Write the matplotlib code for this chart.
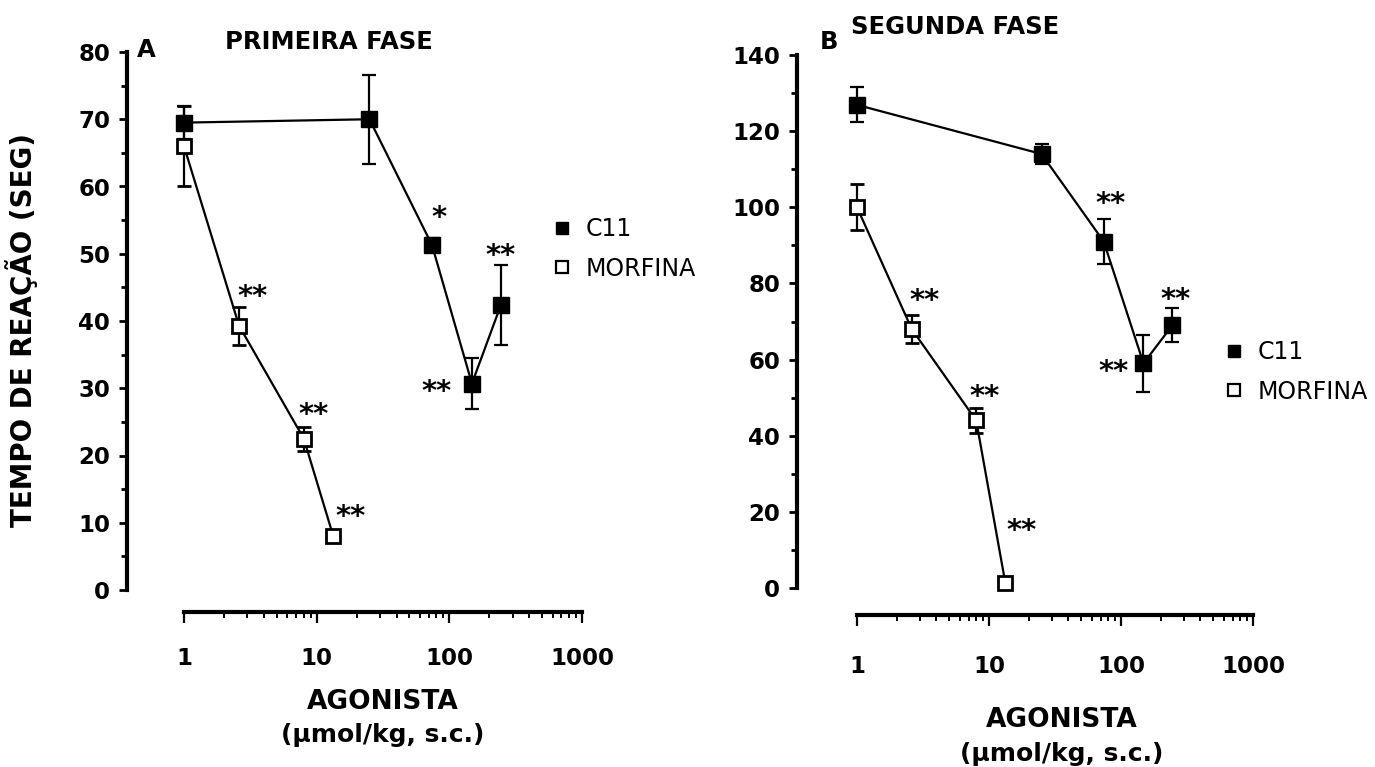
import matplotlib
matplotlib.use("Agg")
import matplotlib.pyplot as plt
from matplotlib.lines import Line2D
from matplotlib.ticker import FixedLocator, MultipleLocator, LogLocator, NullFormatter

plt.rcParams['font.family'] = ['DejaVu Sans']

# doses (umol/kg, s.c.)
dose_c11 = [1, 25, 74, 148, 245]
dose_morf = [1, 2.6, 8.0, 13.3]

# A - primeira fase
c11_a = [69.5, 70.0, 51.3, 30.7, 42.4]
c11_a_err = [2.5, 6.6, 1.0, 3.8, 5.9]
morf_a = [66.0, 39.3, 22.5, 8.1]
morf_a_err = [6.0, 2.8, 1.8, 0.8]

# B - segunda fase
c11_b = [126.9, 114.0, 91.0, 59.0, 69.0]
c11_b_err = [4.6, 2.5, 6.0, 7.5, 4.5]
morf_b = [100.0, 68.0, 44.0, 1.3]
morf_b_err = [6.0, 3.7, 3.4, 0.8]

# significance marks: (series, index, text, dx, dy) offsets in px
stars_a = [('m', 1, '**', 14, 37), ('m', 2, '**', 10, 32), ('m', 3, '**', 17, 27),
           ('c', 2, '*', 7, 35), ('c', 3, '**', -35, 0), ('c', 4, '**', 0, 57)]
stars_b = [('m', 1, '**', 13, 36), ('m', 2, '**', 8, 32), ('m', 3, '**', 16, 60),
           ('c', 2, '**', 7, 46), ('c', 3, '**', -30, 0), ('c', 4, '**', 3, 34)]

W, H = 1375, 767
PT = 0.72  # points per pixel at dpi 100


def panel(rect, ymax, ymaj, ymin, c11, c11e, morf, morfe, stars, yoff, xoff, xpad):
    ax = fig.add_axes(rect)
    ax.set_xscale('log')
    ax.set_xlim(1, 1000)
    ax.set_ylim(0, ymax)

    ax.errorbar(dose_c11, c11, yerr=c11e, color='black', lw=1.6, marker='s',
                ms=11, mfc='black', mec='black', capsize=5, capthick=1.6,
                elinewidth=1.6, clip_on=False, zorder=3)
    ax.errorbar(dose_morf, morf, yerr=morfe, color='black', lw=1.6, marker='s',
                ms=10, mfc='white', mec='black', mew=2, capsize=5, capthick=1.6,
                elinewidth=1.6, clip_on=False, zorder=4)

    for s, i, txt, dx, dy in stars:
        xs, ys = (dose_morf, morf) if s == 'm' else (dose_c11, c11)
        ax.annotate(txt, (xs[i], ys[i]), xytext=(dx * PT, dy * PT - 6),
                    textcoords='offset points', ha='center', va='center',
                    fontsize=21, fontweight='bold')

    for side in ['top', 'right']:
        ax.spines[side].set_visible(False)
    ax.spines['left'].set_position(('outward', yoff * PT))
    ax.spines['left'].set_bounds(0, ymax)
    ax.spines['bottom'].set_position(('outward', xoff * PT))
    ax.spines['left'].set_linewidth(3)
    ax.spines['bottom'].set_linewidth(3)

    ax.yaxis.set_major_locator(MultipleLocator(ymaj))
    ax.yaxis.set_minor_locator(MultipleLocator(ymin))
    ax.xaxis.set_major_locator(FixedLocator([1, 10, 100, 1000]))
    ax.xaxis.set_minor_locator(LogLocator(base=10, subs=range(2, 10)))
    ax.xaxis.set_minor_formatter(NullFormatter())
    ax.set_xticklabels(['1', '10', '100', '1000'])
    ax.tick_params(axis='y', which='major', length=6, width=2, pad=6,
                   labelsize=16.5)
    ax.tick_params(axis='y', which='minor', length=4, width=2)
    ax.tick_params(axis='x', which='major', direction='out', length=8, width=1.6,
                   pad=xpad, labelsize=16.5)
    ax.tick_params(axis='x', which='minor', direction='out', length=4, width=1.4)
    for lab in ax.get_xticklabels() + ax.get_yticklabels():
        lab.set_fontweight('bold')
    return ax


fig = plt.figure(figsize=(W / 100, H / 100), dpi=100)

ax_a = panel([184 / W, 1 - 590 / H, 398 / W, 538 / H], 80, 10, 5,
             c11_a, c11_a_err, morf_a, morf_a_err, stars_a, 57, 22, 17)
ax_b = panel([857 / W, 1 - 588 / H, 396 / W, 533 / H], 140, 20, 10,
             c11_b, c11_b_err, morf_b, morf_b_err, stars_b, 60, 27, 21)

handles = [Line2D([], [], ls='none', marker='s', ms=8, mfc='black', mec='black'),
           Line2D([], [], ls='none', marker='s', ms=8, mfc='white', mec='black', mew=1.6)]
for ax, (lx, ly) in [(ax_a, (531, 249)), (ax_b, (1203, 372))]:
    ax.legend(handles, ['C11', 'MORFINA'], loc='center left', frameon=False,
              bbox_to_anchor=(lx / W, 1 - ly / H), bbox_transform=fig.transFigure,
              handlelength=0.8, handletextpad=0.6, labelspacing=0.65, fontsize=17)

fig.text(146 / W, 1 - 50 / H, 'A', fontsize=17.5, fontweight='bold', ha='center', va='center')
fig.text(829 / W, 1 - 42 / H, 'B', fontsize=17.5, fontweight='bold', ha='center', va='center')
fig.text(329 / W, 1 - 42 / H, 'PRIMEIRA FASE', fontsize=17.5, fontweight='bold', ha='center', va='center')
fig.text(955 / W, 1 - 27 / H, 'SEGUNDA FASE', fontsize=17.5, fontweight='bold', ha='center', va='center')
fig.text(22 / W, 1 - 330 / H, 'TEMPO DE REAÇÃO (SEG)', fontsize=20, fontweight='bold',
         rotation=90, ha='center', va='center')

for cx, y1, y2 in [(383, 702, 735), (1062, 720, 754)]:
    fig.text(cx / W, 1 - y1 / H, 'AGONISTA', fontsize=19, fontweight='bold', ha='center', va='center')
    fig.text(cx / W, 1 - y2 / H, '(µmol/kg, s.c.)', fontsize=18, fontweight='bold', ha='center', va='center')

fig.savefig('out.png', dpi=100, facecolor='white')
